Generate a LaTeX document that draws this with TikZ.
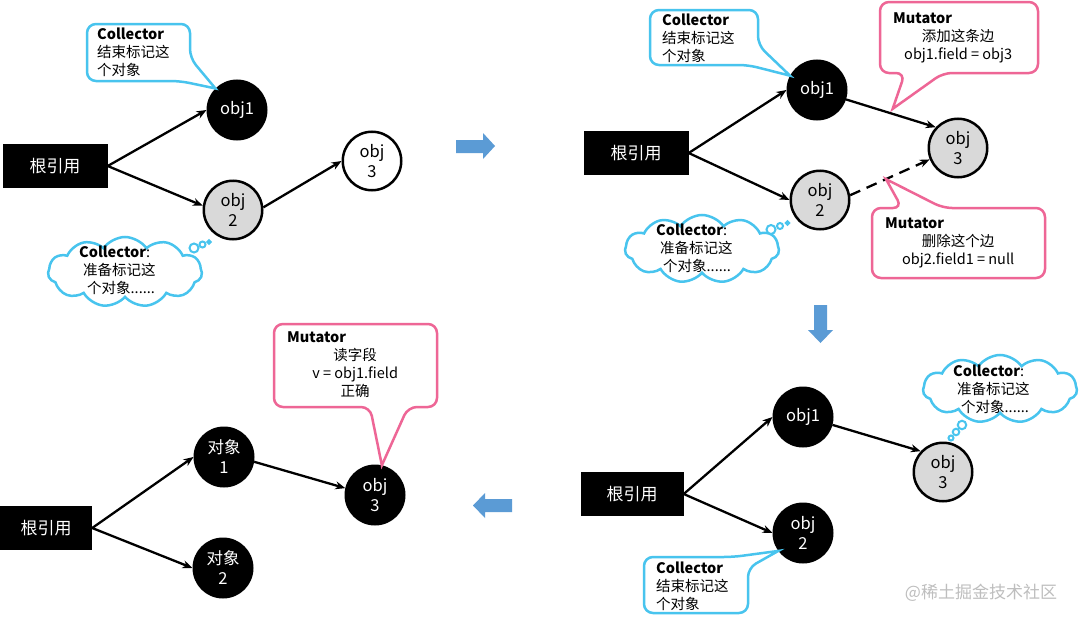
\documentclass[tikz,border=0pt]{standalone}
\usepackage{fontspec}
\setmainfont{Noto Sans CJK SC}
\usetikzlibrary{arrows.meta,shapes.symbols,calc}
\definecolor{cy}{RGB}{72,196,238}
\definecolor{pk}{RGB}{238,102,150}
\definecolor{gr}{RGB}{217,217,217}
\definecolor{bl}{RGB}{91,155,213}
\definecolor{wm}{RGB}{190,190,190}
\tikzset{
 rootbox/.style={fill=black,text=white,minimum width=105pt,minimum height=44pt,inner sep=0pt,font=\fontsize{17}{20}\selectfont},
 objb/.style={circle,draw=black,line width=2.5pt,fill=black,text=white,minimum size=58.5pt,inner sep=0pt,align=center,font=\fontsize{16.5}{20}\selectfont},
 objg/.style={objb,fill=gr,text=black},
 objw/.style={objb,fill=white,text=black},
 link/.style={line width=2.3pt,-{Stealth[length=10pt,width=8pt]}},
 ctext/.style={inner sep=0pt,align=left,font=\fontsize{14.5}{18}\selectfont,anchor=west},
 cbox/.style={draw=cy,line width=2.5pt,rounded corners=9pt,fill=white},
 mbox/.style={draw=pk,line width=2.5pt,rounded corners=9pt,fill=white},
 cloudn/.style={cloud,draw=cy,line width=2.5pt,fill=white,cloud puffs=11,cloud puff arc=110,cloud ignores aspect,inner sep=0pt,minimum width=154pt,minimum height=70pt},
 bubble/.style={circle,draw=cy,line width=2pt,fill=white,inner sep=0pt},
 bubblef/.style={circle,draw=cy,line width=2pt,fill=cy,inner sep=0pt},
 bigarrow/.style={fill=bl,draw=none},
}
\begin{document}
\begin{tikzpicture}[x=1pt,y=-1pt]
\useasboundingbox (0,0) rectangle (1080,621);
\fill[white] (0,0) rectangle (1080,621);

% ---------- panel 1 ----------
\node[rootbox] (r1) at (55,166) {根引用};
\node[objb] (a1) at (237,110) {obj1};
\node[objg] (a2) at (233,210) {obj\\2};
\node[objw] (a3) at (372,161) {obj\\3};
\draw[link] (r1.east) -- (a1.west);
\draw[link] (r1.east) -- (a2.172);
\draw[link] (a2.5) -- (a3.west);
\draw[cbox] (87,24) -- (190,24) -- (190,58) [sharp corners] -- (a1.135) [rounded corners=9pt] -- (180,81) -- (87,81) -- cycle;
\node[ctext] (t1) at (97,52) {\textbf{Collector}\\结束标记这\\个对象};
\node[cloudn] (k1) at (125,272) {};
\node[bubble,minimum size=9pt] (k1a) at (194,248) {};
\node[bubble,minimum size=6pt] (k1b) at (202.5,244.5) {};
\node[bubblef,minimum size=3.5pt] (k1c) at (209,242) {};
\node[ctext] (k1t) at (79,270) {\textbf{Collector}:\\\hspace*{4pt}准备标记这\\\hspace*{8pt}个对象......};

% arrow right
\fill[bigarrow] (456,140) -- (483,140) -- (483,133) -- (495,146) -- (483,159) -- (483,153) -- (456,153) -- cycle;

% ---------- panel 2 ----------
\node[rootbox] (r2) at (636,153) {根引用};
\node[objb] (b1) at (817,90) {obj1};
\node[objg] (b2) at (820,200) {obj\\2};
\node[objg] (b3) at (958,148) {obj\\3};
\draw[link] (r2.east) -- (b1.west);
\draw[link] (r2.east) -- (b2.west);
\draw[link] (b1.-18) -- (b3.137);
\draw[link,dash pattern=on 11pt off 7pt] (b2.9) -- (b3.202);
\draw[cbox] (650,10) -- (758,10) -- (758,45) [sharp corners] -- (b1.152) [rounded corners=9pt] -- (748,65) -- (650,65) -- cycle;
\node[ctext] (t2) at (662,38) {\textbf{Collector}\\结束标记这\\个对象};
\coordinate (m1tip) at ($(b1.-18)!0.52!(b3.137)+(0,-5)$);
\draw[mbox] (880,2) -- (1038,2) -- (1038,73) -- (943,73) [sharp corners] -- (m1tip) [rounded corners=9pt] -- (905,73) -- (880,73) -- cycle;
\node[ctext] (m1) at (893,37.5) {\textbf{Mutator}\\\makebox[130pt]{添加这条边}\\\makebox[130pt]{obj1.field = obj3}};
\coordinate (m2tip) at ($(b2.9)!0.45!(b3.202)$);
\draw[mbox] (872,278) -- (872,208) -- (902,208) [sharp corners] -- (m2tip) [rounded corners=9pt] -- (943,208) -- (1045,208) -- (1045,278) -- cycle;
\node[ctext] (m2) at (885,243) {\textbf{Mutator}\\\makebox[146pt]{删除这个边}\\\makebox[146pt]{obj2.field1 = null}};
\node[cloudn,minimum height=68pt] (k2) at (702,249) {};
\node[bubble,minimum size=9pt] (k2a) at (771,229.5) {};
\node[bubble,minimum size=6pt] (k2b) at (780,226) {};
\node[bubblef,minimum size=3.5pt] (k2c) at (787.5,223) {};
\node[ctext] (k2t) at (656,248) {\textbf{Collector}:\\\hspace*{4pt}准备标记这\\\hspace*{7pt}个对象......};

% arrow down
\fill[bigarrow] (814,305) -- (827,305) -- (827,330) -- (833,330) -- (820.5,343) -- (808,330) -- (814,330) -- cycle;

% ---------- panel 3 ----------
\node[rootbox,minimum width=103pt] (r3) at (632,494) {根引用};
\node[objb] (c1) at (803,417) {obj1};
\node[objb] (c2) at (803,533) {obj\\2};
\node[objg] (c3) at (943,472) {obj\\3};
\draw[link] (r3.east) -- (c1.west);
\draw[link] (r3.east) -- (c2.west);
\draw[link] (c1.-15) -- (c3.137);
\draw[cbox] (644,557) -- (733,557) [sharp corners] -- (c2.216) [rounded corners=9pt] -- (748,568) -- (748,613) -- (644,613) -- cycle;
\node[ctext] (t3) at (656,586) {\textbf{Collector}\\结束标记这\\个对象};
\node[cloudn,minimum height=68pt] (k3) at (1000,389) {};
\node[bubble,minimum size=8.5pt] (k3a) at (962,425) {};
\node[bubble,minimum size=6.5pt] (k3b) at (956,432) {};
\node[bubble,minimum size=5pt] (k3c) at (951,438) {};
\node[ctext] (k3t) at (953,389) {\textbf{Collector}:\\\hspace*{4pt}准备标记这\\\hspace*{8pt}个对象......};
\node[text=wm,inner sep=0pt,font=\fontsize{17}{20}\selectfont] (wmk) at (981,593) {@稀土掘金技术社区};

% arrow left
\fill[bigarrow] (512,499) -- (485,499) -- (485,493) -- (473,505.5) -- (485,518) -- (485,512) -- (512,512) -- cycle;

% ---------- panel 4 ----------
\node[rootbox,minimum width=92pt] (r4) at (46,528) {根引用};
\node[objb] (d1) at (224,457) {对象\\1};
\node[objb] (d2) at (223,568) {对象\\2};
\node[objb] (d3) at (375,495) {obj\\3};
\draw[link] (r4.east) -- (d1.west);
\draw[link] (r4.east) -- (d2.west);
\draw[link] (d1.-9) -- (d3.167);
\draw[mbox] (274,324) -- (437,324) -- (437,407) -- (408,407) [sharp corners] -- (d3.77) [rounded corners=9pt] -- (370,407) -- (274,407) -- cycle;
\node[ctext] (m3) at (287,365) {\textbf{Mutator}\\\makebox[136pt]{读字段}\\\makebox[136pt]{v = obj1.field}\\\makebox[136pt]{正确}};
\end{tikzpicture}
\end{document}
